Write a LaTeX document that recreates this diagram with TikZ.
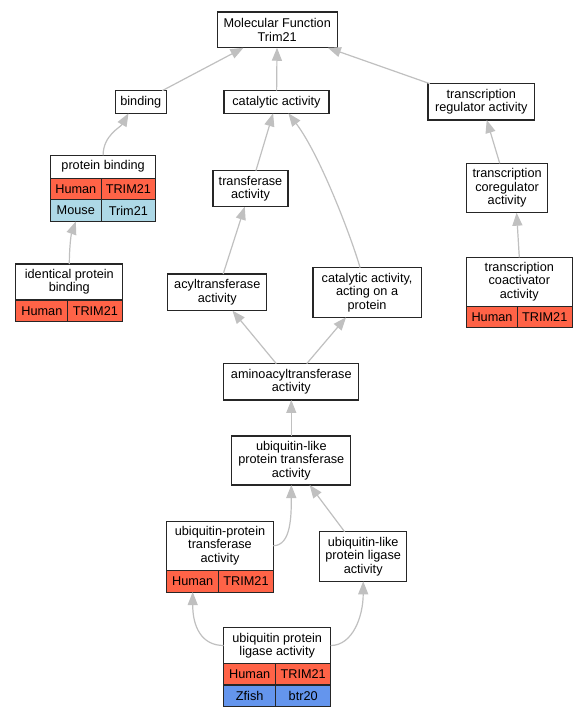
\documentclass[tikz,border=0pt]{standalone}
\usepackage{fontspec}
\setmainfont{Liberation Sans}
\usepackage{xcolor}
\definecolor{humanRed}{HTML}{FF6347}
\definecolor{mouseBlue}{HTML}{ADD8E6}
\definecolor{zfishBlue}{HTML}{6495ED}
\definecolor{edgeGray}{HTML}{C0C0C0}
\definecolor{boxBorder}{HTML}{262626}
\usetikzlibrary{arrows.meta, positioning}

\begin{document}
\begin{tikzpicture}[
    x=1pt, y=-1pt,
    every node/.style={font=\fontsize{12.7}{13.3}\selectfont},
    term/.style={rectangle, draw=boxBorder, line width=1.1pt, fill=white, align=center, inner sep=2pt, outer sep=0pt, text=black},
    cell/.style={rectangle, draw=boxBorder, line width=1.1pt, minimum height=21.7pt, inner sep=1pt, outer sep=0pt, text=black},
    human/.style={cell, fill=humanRed},
    mouse/.style={cell, fill=mouseBlue},
    zfish/.style={cell, fill=zfishBlue},
    arrow_gray/.style={-{Triangle[length=13pt, width=10pt]}, line width=1.2pt, draw=edgeGray},
]
\fill[white] (0,0) rectangle (587,717);

% ====== TOP PART ======
\node[term, minimum width=120pt, minimum height=35.7pt] (mf) at (277.2,29.9) {Molecular Function\\Trim21};
\node[term, minimum width=51pt, minimum height=22.6pt] (binding) at (140.8,102) {binding};
\node[term, minimum width=105pt, minimum height=22.6pt] (cat_act) at (276.5,102) {catalytic activity};
\node[term, minimum width=106.7pt, minimum height=36.3pt] (tr_reg) at (481.3,101.8) {transcription\\regulator activity};

% --- protein binding table ---
\node[term, minimum width=105.2pt, minimum height=22.7pt] (prot_bind) at (103.1,166.7) {protein binding};
\node[human, minimum width=50.6pt, below right=0pt and 0pt of prot_bind.south west] (pb_human) {Human};
\node[human, minimum width=54.6pt, right=0pt of pb_human] (pb_trim) {TRIM21};
\node[mouse, minimum width=50.6pt, below=0pt of pb_human] (pb_mouse) {Mouse};
\node[mouse, minimum width=54.6pt, right=0pt of pb_mouse] (pb_trim_m) {Trim21};

\node[term, minimum width=75pt, minimum height=36pt] (transf) at (250.5,188.7) {transferase\\activity};
\node[term, minimum width=81.2pt, minimum height=49.4pt] (coreg) at (507.1,188) {transcription\\coregulator\\activity};

% ====== MIDDLE PART ======
\node[term, minimum width=107pt, minimum height=36pt] (ipb) at (69.3,282) {identical protein\\binding};
\node[human, minimum width=52.1pt, below right=0pt and 0pt of ipb.south west] (ipb_human) {Human};
\node[human, minimum width=54.9pt, right=0pt of ipb_human] (ipb_trim) {TRIM21};

\node[term, minimum width=99.2pt, minimum height=36.7pt] (acyl) at (217.3,292.3) {acyltransferase\\activity};
\node[term, minimum width=108.2pt, minimum height=49.6pt] (caaop) at (367.1,292.5) {catalytic activity,\\acting on a\\protein};

\node[term, minimum width=105.5pt, minimum height=48.7pt] (coact) at (519.3,281.7) {transcription\\coactivator\\activity};
\node[human, minimum width=50.9pt, below right=0pt and 0pt of coact.south west] (coact_human) {Human};
\node[human, minimum width=54.6pt, right=0pt of coact_human] (coact_trim) {TRIM21};

\node[term, minimum width=134.8pt, minimum height=36.3pt] (aminoacyl) at (291.3,381.8) {aminoacyltransferase\\activity};
\node[term, minimum width=119pt, minimum height=49pt] (ulpt) at (291.3,460.5) {ubiquitin-like\\protein transferase\\activity};

% ====== BOTTOM PART ======
\node[term, minimum width=106.6pt, minimum height=49.3pt] (upt) at (220,545.7) {ubiquitin-protein\\transferase\\activity};
\node[human, minimum width=52pt, below right=0pt and 0pt of upt.south west] (upt_human) {Human};
\node[human, minimum width=54.6pt, right=0pt of upt_human] (upt_trim) {TRIM21};

\node[term, minimum width=87pt, minimum height=49.6pt] (ulpl) at (363.2,556.5) {ubiquitin-like\\protein ligase\\activity};

\node[term, minimum width=107pt, minimum height=35.6pt] (upl) at (277.2,645.5) {ubiquitin protein\\ligase activity};
\node[human, minimum width=52pt, below right=0pt and 0pt of upl.south west] (upl_human) {Human};
\node[human, minimum width=55pt, right=0pt of upl_human] (upl_trim) {TRIM21};
\node[zfish, minimum width=52pt, below=0pt of upl_human] (upl_zfish) {Zfish};
\node[zfish, minimum width=55pt, right=0pt of upl_zfish] (upl_btr) {btr20};

% --- straight arrows ---
\draw[arrow_gray] (binding) -- (mf);
\draw[arrow_gray] (cat_act) -- (mf);
\draw[arrow_gray] (tr_reg) -- (mf);
\draw[arrow_gray] (transf) -- (cat_act);
\draw[arrow_gray] (coreg) -- (tr_reg);
\draw[arrow_gray] (coact.north) -- ([xshift=9.5pt]coreg.south);
\draw[arrow_gray] (acyl) -- (transf);
\draw[arrow_gray] (aminoacyl) -- (acyl);
\draw[arrow_gray] (aminoacyl) -- (caaop);
\draw[arrow_gray] (ulpt) -- (aminoacyl);
\draw[arrow_gray] (ulpl) -- (ulpt);

% --- curved arrows ---
\draw[arrow_gray] (prot_bind.north) .. controls +(0,-20) and +(-8,14) .. ([xshift=-12.3pt]binding.south);
\draw[arrow_gray] ([xshift=-7pt]caaop.north) .. controls +(-8,-28) and +(32,42) .. ([xshift=11.9pt]cat_act.south);
\draw[arrow_gray] (ipb.north) .. controls +(0,-14) and +(-5,14) .. (pb_mouse.south);
\draw[arrow_gray] (upt.east) .. controls +(18,0) and +(0,30) .. (ulpt.south);
\draw[arrow_gray] (upl.west) .. controls +(-22,0) and +(0,35) .. (upt_human.south);
\draw[arrow_gray] (upl.east) .. controls +(22,0) and +(0,35) .. (ulpl.south);

\end{tikzpicture}
\end{document}
